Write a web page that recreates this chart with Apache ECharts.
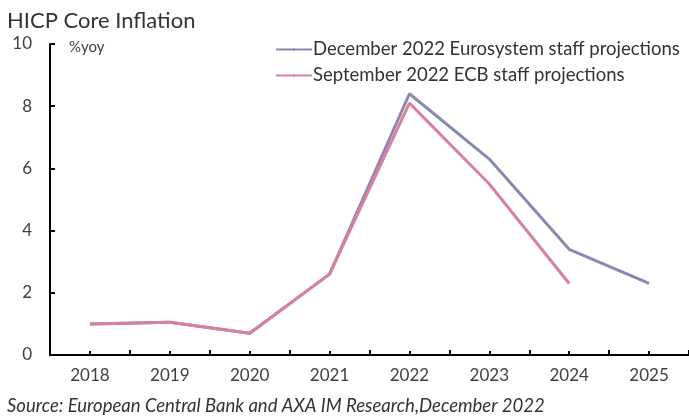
<!DOCTYPE html>
<html>
<head>
<meta charset="utf-8">
<script src="https://cdn.jsdelivr.net/npm/echarts@6/dist/echarts.min.js"></script>
<style>html,body{margin:0;padding:0;background:#fff}#c{width:689px;height:416px}</style>
</head>
<body>
<div id="c"></div>
<script>
const years = ['2018','2019','2020','2021','2022','2023','2024','2025'];
const decProj = [1.0, 1.05, 0.7, 2.6, 8.4, 6.3, 3.4, 2.3];
const sepProj = [1.0, 1.05, 0.7, 2.6, 8.1, 5.5, 2.3, null];
const yTicks = [0, 2, 4, 6, 8, 10];
const FONT = 'Lato, "Open Sans", sans-serif';
const chart = echarts.init(document.getElementById('c'));
chart.setOption({
  animation: false,
  backgroundColor: '#ffffff',
  textStyle: { fontFamily: FONT },
  title: [
    { text: 'HICP Core Inflation', left: 2, top: 5, textStyle: { fontFamily: FONT, fontSize: 22, fontWeight: 'normal', color: '#333' } },
    { text: '%yoy', left: 64, top: 35, textStyle: { fontFamily: FONT, fontSize: 15, fontWeight: 'normal', color: '#404040' } },
    { text: 'Source: European Central Bank and AXA IM Research,December 2022', left: 2, top: 392, textStyle: { fontFamily: FONT, fontSize: 18.5, fontWeight: 'normal', fontStyle: 'italic', color: '#333' } }
  ],
  legend: {
    orient: 'vertical', left: 270, top: 35, itemWidth: 36, itemHeight: 3, itemGap: 7,
    textStyle: { fontFamily: FONT, fontSize: 18.5, color: '#333', padding: [0,0,0,-4] },
    data: ['December 2022 Eurosystem staff projections', 'September 2022 ECB staff projections']
  },
  grid: { left: 50, top: 44, bottom: 61, width: 643, containLabel: false },
  xAxis: [
    { type: 'category', data: years, position: 'bottom', boundaryGap: true,
      axisLine: { lineStyle: { color: '#000', width: 2 } },
      axisTick: { show: true, inside: true, length: 5, lineStyle: { color: '#000', width: 2 } },
      axisLabel: { fontFamily: FONT, fontSize: 17, color: '#404040', margin: 12 } },
    { type: 'category', data: years, position: 'bottom', offset: 0, boundaryGap: true,
      axisLine: { show: false },
      axisTick: { show: true, inside: true, alignWithLabel: true, length: 4, lineStyle: { color: '#000', width: 2 } },
      axisLabel: { show: false } }
  ],
  yAxis: {
    type: 'value', min: yTicks[0], max: yTicks[yTicks.length-1], interval: 2,
    axisLine: { show: true, lineStyle: { color: '#000', width: 2 } },
    axisTick: { show: true, inside: true, length: 5, lineStyle: { color: '#000', width: 2 } },
    splitLine: { show: false },
    axisLabel: { fontFamily: FONT, fontSize: 17, color: '#404040', margin: 18 }
  },
  series: [
    { name: 'December 2022 Eurosystem staff projections', type: 'line', data: decProj, symbol: 'none',
      lineStyle: { color: '#8C88B4', width: 3 }, itemStyle: { color: '#8C88B4' }, z: 2 },
    { name: 'September 2022 ECB staff projections', type: 'line', data: sepProj, symbol: 'none',
      lineStyle: { color: '#D9809F', width: 3 }, itemStyle: { color: '#D9809F' }, z: 3 }
  ]
});
</script>
</body>
</html>
